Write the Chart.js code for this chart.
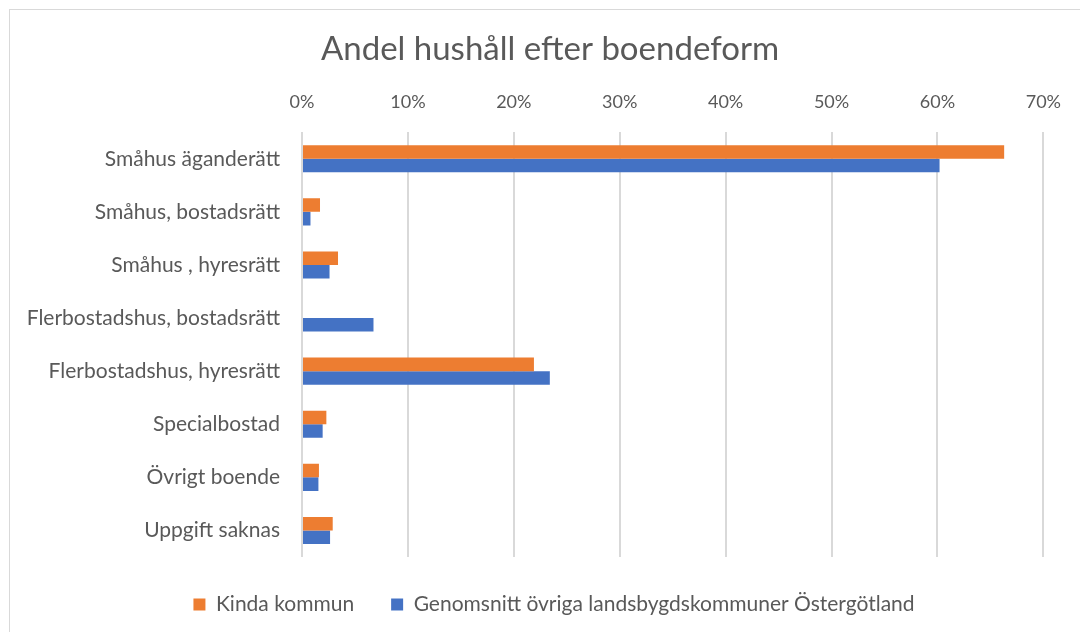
<!DOCTYPE html>
<html>
<head>
<meta charset="utf-8">
<script src="https://cdn.jsdelivr.net/npm/chart.js@4/dist/chart.umd.min.js"></script>
<style>
  body { margin: 0; background: #fff; }
  #wrap { position: relative; width: 1080px; height: 632px; overflow: hidden; }
  #frame { position: absolute; left: 9px; top: 9px; width: 1100px; height: 640px; border: 1px solid #d9d9d9; box-sizing: border-box; }
  canvas { position: absolute; left: 0; top: 0; }
</style>
</head>
<body>
<div id="wrap">
  <div id="frame"></div>
  <canvas id="myChart" width="1080" height="632"></canvas>
</div>
<script>
// data
const categories = ['Småhus äganderätt', 'Småhus, bostadsrätt', 'Småhus , hyresrätt', 'Flerbostadshus, bostadsrätt',
    'Flerbostadshus, hyresrätt', 'Specialbostad', 'Övrigt boende', 'Uppgift saknas'];
const kindaValues = [66.3, 1.7, 3.4, 0, 21.9, 2.3, 1.6, 2.9];
const ovrigaValues = [60.2, 0.8, 2.6, 6.75, 23.4, 1.95, 1.55, 2.65];
const seriesNames = ['Kinda kommun', 'Genomsnitt övriga landsbygdskommuner Östergötland'];
const xTicks = [0, 10, 20, 30, 40, 50, 60, 70];

const textColor = '#595959';
const fontFamily = 'Lato, "Noto Sans", sans-serif';
const leftPad = 15;

// title and legend are centred a bit right of the canvas middle in the original
const shiftBoxes = {
    id: 'shiftBoxes',
    afterLayout(chart) {
        chart.titleBlock.left = 55;
        chart.titleBlock.right = 1045;
        chart.legend.left = 63;
        chart.legend.right = 1045;
    }
};

let ctx = document.getElementById('myChart').getContext('2d');

let chart = new Chart(ctx, {
    type: 'bar',
    data: {
        labels: categories,
        datasets: [{
            label: seriesNames[0],
            data: kindaValues,
            backgroundColor: '#ED7D31'
        }, {
            label: seriesNames[1],
            data: ovrigaValues,
            backgroundColor: '#4472C4'
        }]
    },
    options: {
        indexAxis: 'y',
        responsive: false,
        animation: false,
        barPercentage: 1.0,
        categoryPercentage: 0.51,
        layout: {
            padding: { left: leftPad, right: 35, top: 30, bottom: 7 }
        },
        plugins: {
            title: {
                display: true,
                text: 'Andel hushåll efter boendeform',
                color: textColor,
                font: { family: fontFamily, size: 33, weight: 'normal' },
                padding: { top: 0, bottom: 3 }
            },
            legend: {
                position: 'bottom',
                labels: {
                    color: textColor,
                    font: { family: fontFamily, size: 21 },
                    boxWidth: 12,
                    boxHeight: 12,
                    padding: 37
                }
            },
            tooltip: { enabled: false }
        },
        scales: {
            x: {
                position: 'top',
                min: 0,
                max: 70,
                afterBuildTicks: (scale) => {
                    scale.ticks = xTicks.map(v => ({ value: v }));
                },
                ticks: {
                    color: textColor,
                    font: { family: fontFamily, size: 18 },
                    padding: 19,
                    callback: (v) => v + '%'
                },
                grid: {
                    color: '#d9d9d9',
                    lineWidth: 2,
                    drawTicks: false
                },
                border: { display: false }
            },
            y: {
                afterFit: (scale) => {
                    scale.width = 302 - leftPad;
                },
                ticks: {
                    color: textColor,
                    font: { family: fontFamily, size: 21 },
                    padding: 14
                },
                grid: { display: false },
                border: { display: false }
            }
        }
    },
    plugins: [shiftBoxes]
});
</script>
</body>
</html>
